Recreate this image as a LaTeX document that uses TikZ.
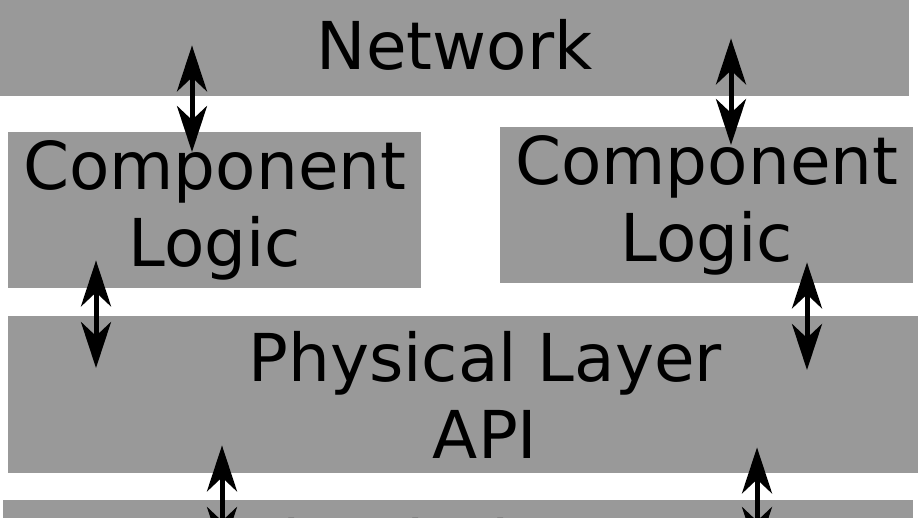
\documentclass[tikz,border=0pt]{standalone}
\usepackage{fontspec}
\setmainfont{DejaVu Sans}
\usepackage{xcolor}
\usetikzlibrary{positioning,arrows.meta}
\definecolor{layergray}{RGB}{153,153,153}

\begin{document}
\begin{tikzpicture}[x=1pt, y=-1pt,
    layer/.style={fill=layergray, inner sep=0pt, anchor=north west, align=center, font=\fontsize{66}{77}\selectfont},
    link/.style={line width=5pt, {Stealth[length=46pt,width=30pt,inset=14pt]}-{Stealth[length=46pt,width=30pt,inset=14pt]}}]
    \useasboundingbox (0,0) rectangle (918,517);
    \clip (0,0) rectangle (918,517);

    \node [layer, minimum width=909pt, minimum height=96pt, text depth=8pt] (net) at (0,0) {Network};
    \node [layer, minimum width=413pt, minimum height=156pt] (lcomp) at (8,132) {Component\\Logic};
    \node [layer, minimum width=413pt, minimum height=156pt] (rcomp) at (500,127) {Component\\Logic};
    \node [layer, minimum width=954pt, minimum height=157pt] (phys) at (8,316) {Physical Layer\\API};
    \node [layer, minimum width=910pt, minimum height=100pt] (hw) at (3,500) {};
    \node [anchor=base, inner sep=0pt, font=\fontsize{66}{77}\selectfont] (hwtext) at (416,568) {Simulation};

    \draw [link] ([xshift=192pt, yshift=51pt]net.south west) -- ([xshift=184pt, yshift=-20pt]lcomp.north west);
    \draw [link] ([xshift=731pt, yshift=58pt]net.south west) -- ([xshift=231pt, yshift=-18pt]rcomp.north west);
    \draw [link] ([xshift=88pt, yshift=28pt]lcomp.south west) -- ([xshift=88pt, yshift=-52pt]phys.north west);
    \draw [link] ([xshift=307pt, yshift=21pt]rcomp.south west) -- ([xshift=799pt, yshift=-54pt]phys.north west);
    \draw [link] ([xshift=214pt, yshift=28pt]phys.south west) -- ([xshift=219pt, yshift=-53pt]hw.north west);
    \draw [link] ([xshift=749pt, yshift=26pt]phys.south west) -- ([xshift=754pt, yshift=-53pt]hw.north west);
\end{tikzpicture}
\end{document}
